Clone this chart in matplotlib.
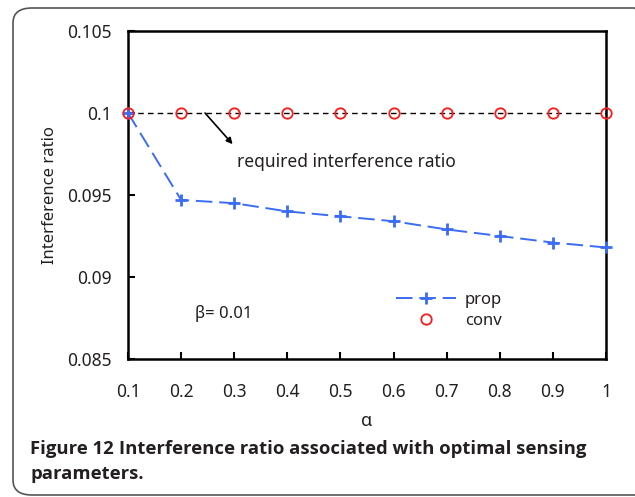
import matplotlib.pyplot as plt
from matplotlib.patches import FancyBboxPatch
from matplotlib.lines import Line2D

# ========== data ==========
alpha = [0.1, 0.2, 0.3, 0.4, 0.5, 0.6, 0.7, 0.8, 0.9, 1.0]
prop = [0.1, 0.0947, 0.0945, 0.0940, 0.0937, 0.0934, 0.0929, 0.0925, 0.0921, 0.0918]
conv = [0.1, 0.1, 0.1, 0.1, 0.1, 0.1, 0.1, 0.1, 0.1, 0.1]
required = 0.1
x_ticks = [0.1, 0.2, 0.3, 0.4, 0.5, 0.6, 0.7, 0.8, 0.9, 1.0]
x_tick_labels = ['0.1', '0.2', '0.3', '0.4', '0.5', '0.6', '0.7', '0.8', '0.9', '1']
y_ticks = [0.085, 0.09, 0.095, 0.1, 0.105]
y_tick_labels = ['0.085', '0.09', '0.095', '0.1', '0.105']

plt.rcParams['font.family'] = ['Noto Sans', 'DejaVu Sans']
txt = '#231f20'
blue = '#3a6cf4'
red = '#ff1a1a'
dash = (0, (8.5, 3.5))

fig = plt.figure(figsize=(6.35, 4.97), dpi=100)

# rounded frame around figure + caption
frame = FancyBboxPatch((13 / 635, 2 / 497), 640 / 635, 487 / 497,
                       boxstyle='round,pad=0,rounding_size=0.03',
                       transform=fig.transFigure, fill=False,
                       edgecolor='#555555', linewidth=1.2, clip_on=False)
fig.patches.append(frame)

ax = fig.add_axes([128 / 635, 1 - 359 / 497, 478 / 635, 328 / 497])

# required line + series
ax.plot([alpha[0], alpha[-1]], [required, required], color='black',
        linestyle=(0, (4, 3)), linewidth=1.0, zorder=2)
ax.plot(alpha, prop, color=blue, linestyle=dash, linewidth=1.4,
        marker='+', markersize=9, markeredgewidth=2, zorder=3, clip_on=False)
ax.plot(alpha, conv, linestyle='none', marker='o', markersize=7.5,
        markerfacecolor='none', markeredgecolor=red, markeredgewidth=1.3,
        zorder=4, clip_on=False)

ax.set_xlim(0.1, 1.0)
ax.set_ylim(0.085, 0.105)
ax.set_xticks(x_ticks)
ax.set_xticklabels(x_tick_labels)
ax.set_yticks(y_ticks)
ax.set_yticklabels(y_tick_labels)
ax.tick_params(direction='in', length=5, width=1.5, labelsize=12.5,
               colors='black', labelcolor=txt)
ax.tick_params(axis='y', pad=12)
ax.tick_params(axis='x', pad=17)
for s in ax.spines.values():
    s.set_linewidth(1.8)

ax.set_xlabel('α', fontsize=13, color=txt, labelpad=8)
ax.set_ylabel('Interference ratio', fontsize=12, color=txt, labelpad=6)

# annotations
ax.annotate('', xy=(0.297, 0.0981), xytext=(0.245, 0.1),
            arrowprops=dict(arrowstyle='-|>', color='black', lw=1.2,
                            mutation_scale=9, shrinkA=0, shrinkB=0))
ax.text(0.305, 0.0970, 'required interference ratio', fontsize=12.5,
        color=txt, va='center', ha='left')
ax.text(0.28, 0.0878, 'β= 0.01', fontsize=12, color=txt,
        va='center', ha='center')

# legend
handles = [
    Line2D([], [], color=blue, linestyle=dash, linewidth=1.4,
           marker='+', markersize=9, markeredgewidth=2),
    Line2D([], [], linestyle='none', marker='o', markersize=7.5,
           markerfacecolor='none', markeredgecolor=red, markeredgewidth=1.3),
]
leg = ax.legend(handles, ['prop', 'conv'], loc='center left',
                bbox_to_anchor=(0.53, 0.147), frameon=False, fontsize=12,
                handlelength=3.6, handletextpad=0.5, labelspacing=0.3)
for t in leg.get_texts():
    t.set_color(txt)

# caption (bold face from Open Sans)
cap_font = ['Open Sans', 'DejaVu Sans']
cap_y1 = 1 - 449 / 497
t1 = fig.text(30 / 635, cap_y1, 'Figure 12', fontsize=13.3, fontweight='bold',
              family=cap_font, color=txt, va='center', ha='left')
fig.canvas.draw()
bb = t1.get_window_extent(fig.canvas.get_renderer())
x2 = (bb.x1 + 5) / fig.bbox.width
fig.text(x2, cap_y1, 'Interference ratio associated with optimal sensing',
         fontsize=13.3, fontweight='bold', family=cap_font, color=txt,
         va='center', ha='left')
fig.text(30 / 635, 1 - 474 / 497, 'parameters.', fontsize=13.3, fontweight='bold',
         family=cap_font, color=txt, va='center', ha='left')

plt.savefig('out.png', dpi=100)
